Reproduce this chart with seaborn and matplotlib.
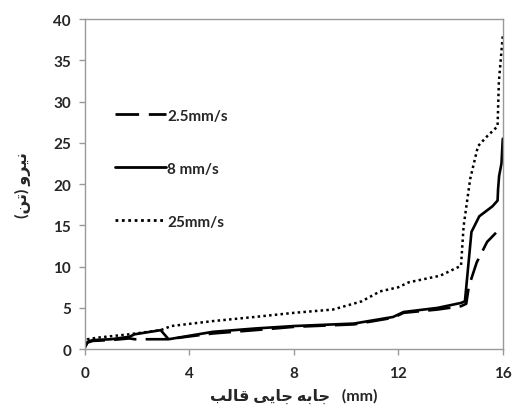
import pandas as pd
import matplotlib
matplotlib.use('Agg')
import matplotlib.pyplot as plt
import seaborn as sns

# displacement (mm) vs force (ton) for three die speeds
dash_x = [0, 0.1, 0.3, 1.0, 1.7, 1.9, 2.5, 3.2, 3.4, 4.9, 6.5, 8.0, 10.3, 11.8,
          12.2, 13.5, 14.4, 14.6, 14.7, 15.0, 15.4, 15.8]
dash_y = [0.3, 0.8, 1.0, 1.1, 1.3, 1.2, 1.2, 1.2, 1.3, 1.9, 2.3, 2.7, 3.0, 3.8,
          4.4, 4.8, 5.2, 5.5, 7.6, 10.5, 13.0, 14.3]

solid_x = [0, 0.1, 0.3, 1.0, 1.7, 1.9, 2.9, 3.2, 4.9, 6.5, 8.0, 10.3, 11.8, 12.2,
           13.5, 14.4, 14.55, 14.8, 15.1, 15.6, 15.8, 15.82, 15.86, 15.95, 16.0]
solid_y = [0.2, 0.9, 1.1, 1.2, 1.5, 1.8, 2.3, 1.2, 2.1, 2.5, 2.8, 3.1, 3.9, 4.5,
           5.0, 5.6, 5.8, 14.2, 16.1, 17.3, 18.0, 19.4, 21.0, 22.5, 25.5]

dot_x = [0, 0.1, 0.5, 1.7, 2.9, 3.3, 4.9, 6.5, 8.0, 9.5, 10.6, 11.3, 12.0, 12.4,
         13.6, 14.4, 14.5, 14.75, 15.05, 15.4, 15.8, 15.85, 16.0]
dot_y = [0.5, 1.2, 1.4, 1.8, 2.3, 2.8, 3.4, 3.9, 4.4, 4.8, 5.8, 7.0, 7.5, 8.1,
         8.9, 10.1, 14.9, 20.6, 24.6, 25.8, 27.0, 32.4, 38.0]

labels = ['2.5mm/s', '8 mm/s', '25mm/s']
x_ticks = [0, 4, 8, 12, 16]
y_ticks = [0, 5, 10, 15, 20, 25, 30, 35, 40]

# persian labels, written as presentation forms in visual order
x_label = '\uFE90\uFEDF\uFE8E\uFED7 \uFBFD\uFBFE\uFE8E\uFE9F \uFEEA\uFE91\uFE8E\uFE9F   (mm)'
y_label = '(\uFEE6\uFE97) \uFEED\uFEAE\uFBFF\uFEE7'

df = pd.concat([
    pd.DataFrame({'x': dash_x, 'y': dash_y, 'speed': labels[0]}),
    pd.DataFrame({'x': solid_x, 'y': solid_y, 'speed': labels[1]}),
    pd.DataFrame({'x': dot_x, 'y': dot_y, 'speed': labels[2]}),
], ignore_index=True)

sns.set_style('white')
plt.rcParams['font.family'] = ['Lato', 'DejaVu Sans']
plt.rcParams['font.weight'] = 'bold'

fig = plt.figure(figsize=(5.12, 4.1), dpi=100)
ax = fig.add_axes([0.166, 0.146, 0.816, 0.805])

styles = {labels[0]: (8.5, 3.5), labels[1]: '', labels[2]: (1, 1.3)}
sns.lineplot(data=df, x='x', y='y', hue='speed', style='speed',
             palette=['black'] * 3, dashes=styles, sort=False,
             estimator=None, linewidth=1.9, ax=ax)
ax.lines[2].set_linewidth(1.8)

ax.set_xlim(0, 16)
ax.set_ylim(0, 40)
ax.set_xticks(x_ticks)
ax.set_yticks(y_ticks)
ax.tick_params(axis='both', labelsize=11, length=4, width=1,
               color='#999999', direction='out', bottom=True, left=True)
ax.tick_params(axis='x', pad=8)
ax.tick_params(axis='y', pad=6)
for lab in ax.get_xticklabels() + ax.get_yticklabels():
    lab.set_fontweight('bold')
for s in ax.spines.values():
    s.set_color('#999999')
    s.set_linewidth(1)

ax.set_xlabel(x_label, fontsize=11.5, fontweight='bold', labelpad=6)
ax.set_ylabel(y_label, fontsize=11.5, fontweight='bold', labelpad=16)

leg = ax.legend(loc='upper left', bbox_to_anchor=(0.04, 0.77), frameon=False,
                handlelength=3.3, handletextpad=0.1, labelspacing=2.55,
                prop={'size': 11, 'weight': 'bold'})
for ln in leg.get_lines():
    ln.set_linewidth(2)

fig.savefig('out.png', dpi=100)
